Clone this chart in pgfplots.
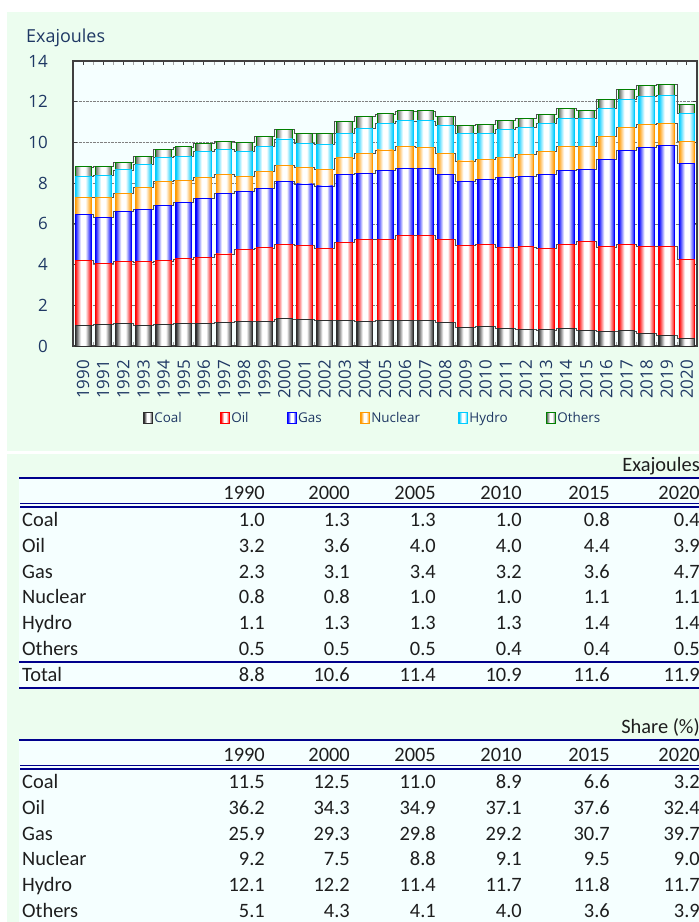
\documentclass[border=0pt]{standalone}
\usepackage{fontspec}
\setmainfont{Open Sans}
\newfontfamily\tabfont{Carlito}
\usepackage{pgfplots}
\pgfplotsset{compat=1.18}
\usepackage{pgfplotstable}

\definecolor{panelgreen}{RGB}{236,253,239}
\definecolor{plotbg}{RGB}{245,255,255}
\definecolor{navytext}{RGB}{31,56,100}
\definecolor{framegray}{RGB}{64,64,64}
\definecolor{navyline}{RGB}{0,0,140}
\definecolor{tabtext}{RGB}{30,30,30}
\definecolor{cCoal}{RGB}{45,45,45}
\definecolor{cOil}{RGB}{255,0,0}
\definecolor{cGas}{RGB}{0,0,255}
\definecolor{cNuc}{RGB}{255,153,0}
\definecolor{cHyd}{RGB}{0,204,255}
\definecolor{cOthB}{RGB}{0,128,0}
\definecolor{cOth}{RGB}{95,105,95}
\definecolor{serline}{RGB}{80,80,80}

\newcommand\mkshade[2]{\pgfdeclarehorizontalshading{#1}{100bp}{color(0bp)=(#2); color(25bp)=(#2); color(43bp)=(white); color(57bp)=(white); color(75bp)=(#2); color(100bp)=(#2)}}
\mkshade{shCoal}{cCoal}
\mkshade{shOil}{cOil}
\mkshade{shGas}{cGas}
\mkshade{shNuc}{cNuc}
\mkshade{shHyd}{cHyd}
\mkshade{shOth}{cOth}

% one axis unit in y: 285bp / 14
\newdimen\yunit \yunit=20.3571bp
\def\rawh{0}
% a bar drawn downward from the stacked top by the raw value of the series
\newcommand\mkbarmark[2]{%
  \pgfdeclareplotmark{bar#1}{%
    \pgfpathrectanglecorners{\pgfqpoint{-7.95bp}{0pt}}{\pgfqpoint{7.95bp}{-\rawh\yunit}}%
    \pgfshadepath{sh#1}{0}%
    \pgfpathrectanglecorners{\pgfqpoint{-7.95bp}{0pt}}{\pgfqpoint{7.95bp}{-\rawh\yunit}}%
    \pgfsetstrokecolor{#2}\pgfsetlinewidth{0.9bp}%
    \pgfusepathqstroke}}
\mkbarmark{Coal}{cCoal}
\mkbarmark{Oil}{cOil}
\mkbarmark{Gas}{cGas}
\mkbarmark{Nuc}{cNuc}
\mkbarmark{Hyd}{cHyd}
\mkbarmark{Oth}{cOthB}

\pgfplotsset{
  barseries/.style n args={3}{% #1 short name, #2 column, #3 border colour
    only marks, scatter, point meta=explicit symbolic,
    scatter/@pre marker code/.code={\edef\rawh{\pgfplotspointmeta}},
    scatter/@post marker code/.code={},
    mark=bar#1,
    legend image code/.code={%
      \pgfpathrectanglecorners{\pgfqpoint{0bp}{-5.5bp}}{\pgfqpoint{8.5bp}{5.5bp}}%
      \pgfshadepath{sh#1}{0}%
      \pgfpathrectanglecorners{\pgfqpoint{0bp}{-5.5bp}}{\pgfqpoint{8.5bp}{5.5bp}}%
      \pgfsetstrokecolor{#3}\pgfsetlinewidth{1.1bp}%
      \pgfusepathqstroke},
  },
}

\pgfplotstableread{
idx year coal oil gas nuclear hydro others
0 1990 1.01 3.19 2.28 0.81 1.06 0.45
1 1991 1.07 2.98 2.28 0.95 1.11 0.42
2 1992 1.12 3.05 2.44 0.90 1.14 0.36
3 1993 1.02 3.11 2.60 1.04 1.17 0.39
4 1994 1.05 3.13 2.71 1.19 1.19 0.37
5 1995 1.09 3.19 2.79 1.06 1.19 0.46
6 1996 1.12 3.23 2.91 1.03 1.27 0.39
7 1997 1.15 3.37 2.99 0.90 1.25 0.39
8 1998 1.22 3.53 2.83 0.76 1.21 0.45
9 1999 1.22 3.60 2.94 0.81 1.25 0.47
10 2000 1.33 3.64 3.11 0.80 1.29 0.46
11 2001 1.30 3.63 3.03 0.82 1.17 0.49
12 2002 1.25 3.55 3.06 0.82 1.24 0.52
13 2003 1.25 3.85 3.33 0.81 1.20 0.59
14 2004 1.22 4.01 3.24 0.99 1.23 0.60
15 2005 1.25 3.98 3.40 1.00 1.30 0.47
16 2006 1.25 4.17 3.32 1.06 1.26 0.49
17 2007 1.25 4.20 3.28 1.03 1.30 0.49
18 2008 1.15 4.09 3.20 1.02 1.37 0.43
19 2009 0.92 4.00 3.17 1.00 1.35 0.41
20 2010 0.97 4.04 3.18 0.99 1.28 0.44
21 2011 0.87 3.97 3.43 1.01 1.37 0.44
22 2012 0.83 4.04 3.48 1.06 1.34 0.41
23 2013 0.79 4.00 3.64 1.12 1.38 0.44
24 2014 0.87 4.11 3.65 1.17 1.37 0.49
25 2015 0.77 4.36 3.56 1.10 1.37 0.42
26 2016 0.71 4.16 4.31 1.11 1.39 0.42
27 2017 0.74 4.24 4.62 1.12 1.40 0.49
28 2018 0.61 4.30 4.86 1.13 1.37 0.54
29 2019 0.51 4.40 4.93 1.09 1.37 0.54
30 2020 0.38 3.86 4.72 1.07 1.39 0.46
}\energy

% one table row: #1 baseline (bp from top), #2 label, #3 six values
\newcommand\trow[3]{%
  \node[anchor=base west, inner sep=0pt] at (22bp,-#1bp) {#2};
  \foreach \v [count=\c from 0] in {#3} {%
    \pgfmathsetmacro\xx{{265,350,436,522,610,700}[\c]}%
    \node[anchor=base east, inner sep=0pt] at (\xx bp,-#1bp) {\v};
  }%
}

\begin{document}
\begin{tikzpicture}
\useasboundingbox (0bp,0bp) rectangle (699bp,-922bp);
\fill[white] (0bp,0bp) rectangle (699bp,-922bp);
\fill[panelgreen] (7bp,-12bp) rectangle (699bp,-451bp);
\fill[panelgreen] (7bp,-454bp) rectangle (699bp,-922bp);
\fill[plotbg] (19bp,-477.7bp) rectangle (699bp,-688bp);
\fill[plotbg] (19bp,-739.7bp) rectangle (699bp,-922bp);

% background axis: plot area, grid, series lines
\begin{axis}[
  at={(73bp,-346bp)}, anchor=south west,
  width=624bp, height=285bp, scale only axis,
  xmin=-0.5, xmax=30.5, ymin=0, ymax=14,
  axis background/.style={fill=plotbg},
  axis line style={draw=none},
  xtick=\empty, ytick={2,4,...,12}, yticklabels={},
  major tick length=0pt,
  ymajorgrids, major grid style={densely dotted, draw=gray, line width=0.7bp},
  stack plots=y,
]
\addplot[const plot mark mid, draw=serline, line width=0.7bp, mark=none] table[x=idx,y=coal]{\energy};
\addplot[const plot mark mid, draw=serline, line width=0.7bp, mark=none] table[x=idx,y=oil]{\energy};
\addplot[const plot mark mid, draw=serline, line width=0.7bp, mark=none] table[x=idx,y=gas]{\energy};
\addplot[const plot mark mid, draw=serline, line width=0.7bp, mark=none] table[x=idx,y=nuclear]{\energy};
\addplot[const plot mark mid, draw=serline, line width=0.7bp, mark=none] table[x=idx,y=hydro]{\energy};
\addplot[const plot mark mid, draw=serline, line width=0.7bp, mark=none] table[x=idx,y=others]{\energy};
\end{axis}

% bar axis: each bar hangs from its stacked top
\begin{axis}[
  at={(73bp,-346bp)}, anchor=south west,
  width=624bp, height=285bp, scale only axis,
  xmin=-0.5, xmax=30.5, ymin=0, ymax=14,
  stack plots=y,
  axis line style={draw=framegray, line width=1.6bp},
  /pgf/number format/assume math mode=true,
  ytick={0,2,...,14},
  xtick={0,...,30},
  xticklabels from table={\energy}{year},
  minor xtick={0.5,1.5,...,29.5},
  major tick length=4bp, minor tick length=4bp,
  tick style={draw=framegray, line width=0.9bp},
  minor tick style={draw=gray!70, line width=0.7bp},
  yticklabel style={font=\fontsize{17}{20}\selectfont, text=navytext, inner sep=0pt, xshift=-25bp},
  xticklabel style={font=\fontsize{17}{20}\selectfont, text=navytext, inner sep=0pt, yshift=-14bp, rotate=90, anchor=east},
  legend style={at={(0.4808,-0.2526)}, anchor=center, draw=none, fill=none,
    font=\fontsize{13.5}{16}\selectfont, text=navytext,
    /tikz/every even column/.append style={column sep=37bp},
    nodes={inner sep=2bp}},
  legend columns=6, legend cell align=left,
]
\addplot[barseries={Coal}{coal}{cCoal}] table[x=idx,y=coal,meta=coal]{\energy};
\addplot[barseries={Oil}{oil}{cOil}] table[x=idx,y=oil,meta=oil]{\energy};
\addplot[barseries={Gas}{gas}{cGas}] table[x=idx,y=gas,meta=gas]{\energy};
\addplot[barseries={Nuc}{nuclear}{cNuc}] table[x=idx,y=nuclear,meta=nuclear]{\energy};
\addplot[barseries={Hyd}{hydro}{cHyd}] table[x=idx,y=hydro,meta=hydro]{\energy};
\addplot[barseries={Oth}{others}{cOthB}] table[x=idx,y=others,meta=others]{\energy};
\legend{Coal,Oil,Gas,Nuclear,Hydro,Others}
\end{axis}

\node[anchor=base west, inner sep=0pt, text=navytext, font=\fontsize{18}{21}\selectfont] at (26bp,-42.5bp) {Exajoules};

% tables
\begin{scope}[font=\tabfont\fontsize{20.5}{24}\selectfont, text=tabtext]
\node[anchor=base east, inner sep=0pt] at (700bp,-471bp) {Exajoules};
\draw[navyline, line width=2.2bp] (19bp,-477.7bp) -- (699bp,-477.7bp);
\trow{499.5}{}{1990,2000,2005,2010,2015,2020}
\draw[navyline, line width=1.7bp] (20bp,-503.5bp) -- (699bp,-503.5bp);
\draw[navyline, line width=1.7bp] (20bp,-507bp) -- (699bp,-507bp);
\trow{526.5}{Coal}{1.0,1.3,1.3,1.0,0.8,0.4}
\trow{552.3}{Oil}{3.2,3.6,4.0,4.0,4.4,3.9}
\trow{578.1}{Gas}{2.3,3.1,3.4,3.2,3.6,4.7}
\trow{603.9}{Nuclear}{0.8,0.8,1.0,1.0,1.1,1.1}
\trow{629.7}{Hydro}{1.1,1.3,1.3,1.3,1.4,1.4}
\trow{655.5}{Others}{0.5,0.5,0.5,0.4,0.4,0.5}
\draw[navyline, line width=2bp] (19bp,-661.5bp) -- (699bp,-661.5bp);
\trow{681.3}{Total}{8.8,10.6,11.4,10.9,11.6,11.9}
\draw[navyline, line width=2bp] (19bp,-688bp) -- (699bp,-688bp);

\node[anchor=base east, inner sep=0pt] at (700bp,-733bp) {Share (\%)};
\draw[navyline, line width=2.2bp] (19bp,-739.7bp) -- (699bp,-739.7bp);
\trow{761.5}{}{1990,2000,2005,2010,2015,2020}
\draw[navyline, line width=1.7bp] (20bp,-765.5bp) -- (699bp,-765.5bp);
\draw[navyline, line width=1.7bp] (20bp,-769bp) -- (699bp,-769bp);
\trow{788.5}{Coal}{11.5,12.5,11.0,8.9,6.6,3.2}
\trow{814.3}{Oil}{36.2,34.3,34.9,37.1,37.6,32.4}
\trow{840.1}{Gas}{25.9,29.3,29.8,29.2,30.7,39.7}
\trow{865.9}{Nuclear}{9.2,7.5,8.8,9.1,9.5,9.0}
\trow{891.7}{Hydro}{12.1,12.2,11.4,11.7,11.8,11.7}
\trow{917.5}{Others}{5.1,4.3,4.1,4.0,3.6,3.9}
\end{scope}
\end{tikzpicture}
\end{document}
